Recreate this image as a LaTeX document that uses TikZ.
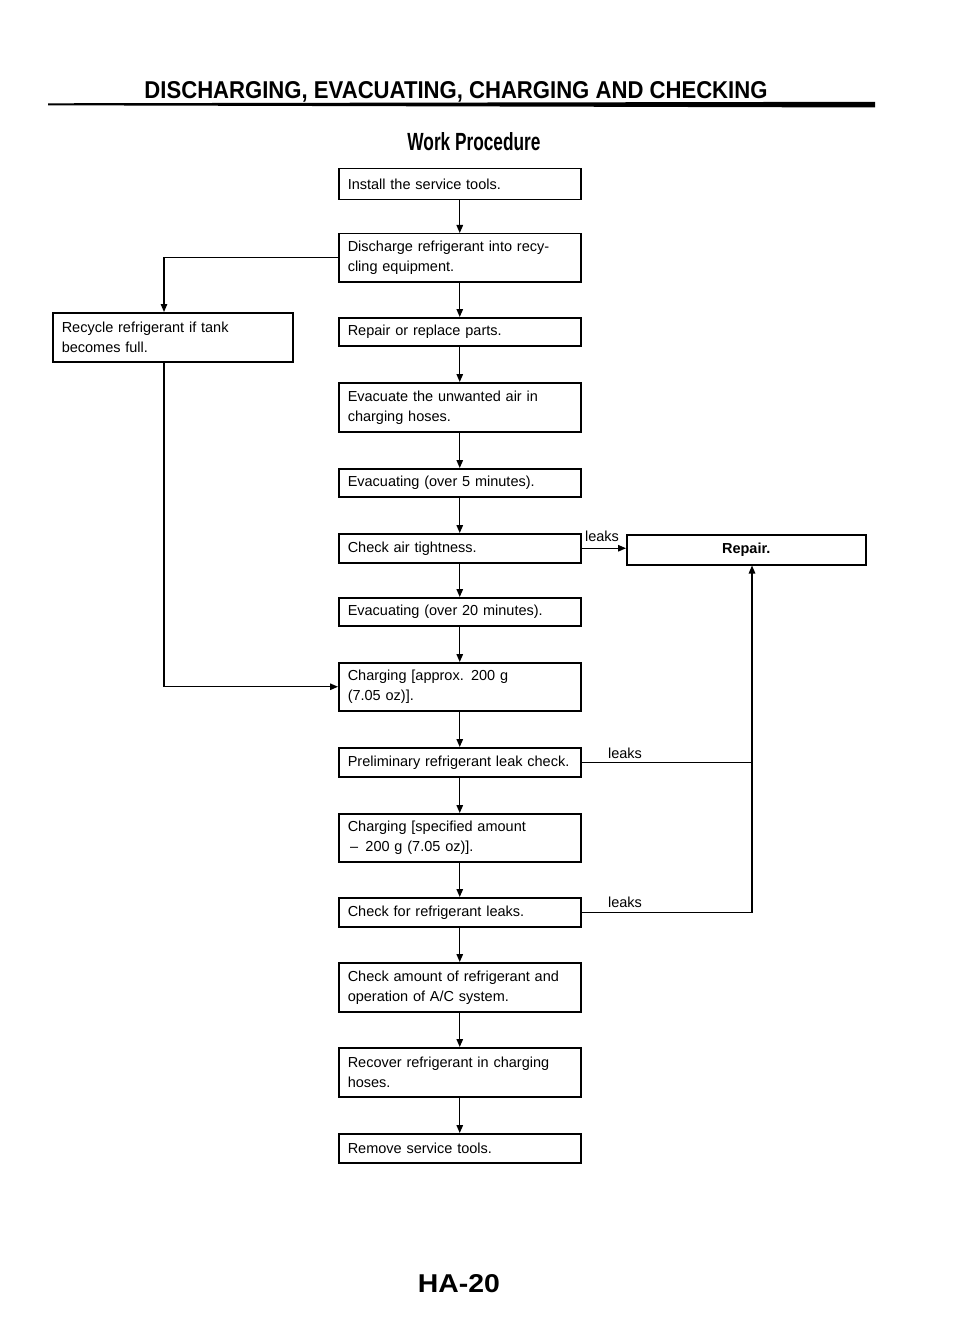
\documentclass[tikz,border=0pt]{standalone}
\usepackage{fontspec}
\setmainfont{Liberation Sans}
\usetikzlibrary{arrows.meta}
\begin{document}
\begin{tikzpicture}[x=1pt,y=-1pt,
  box/.style={draw, line width=1.5pt, anchor=north west, inner xsep=9pt, inner ysep=0pt,
    align=left, font=\fontsize{14.5}{20}\selectfont},
  mbox/.style={box, text width=224pt},
  conn/.style={line width=1.3pt},
  arr/.style={conn, -{Triangle[length=8pt,width=6.5pt]}},
  lbl/.style={font=\fontsize{14.5}{17}\selectfont, inner sep=0pt}]
\useasboundingbox (0,0) rectangle (960,1340);
\fill[white] (0,0) rectangle (960,1340);
% header
\fill (48,103.3) -- (875,101.8) -- (875,107.5) -- (48,105.3) -- cycle;
\node[inner sep=0pt, anchor=base] (title) at (456,99) {\resizebox{623pt}{17pt}{\bfseries DISCHARGING, EVACUATING, CHARGING AND CHECKING}};
\node[inner sep=0pt, anchor=base] (wp) at (474,151) {\resizebox{133pt}{18pt}{\bfseries Work Procedure}};
% main boxes
\node[mbox, minimum height=31pt] (b1) at (338,168) {Install the service tools.};
\node[mbox, minimum height=48pt] (b2) at (338,233) {Discharge refrigerant into recy-\\cling equipment.};
\node[mbox, minimum height=28pt] (b3) at (338,317) {Repair or replace parts.};
\node[mbox, minimum height=49pt] (b4) at (338,382) {Evacuate the unwanted air in\\charging hoses.};
\node[mbox, minimum height=28pt] (b5) at (338,468) {Evacuating (over 5 minutes).};
\node[mbox, minimum height=29pt] (b6) at (338,533) {Check air tightness.};
\node[mbox, minimum height=28pt] (b7) at (338,597) {Evacuating (over 20 minutes).};
\node[mbox, minimum height=48pt] (b8) at (338,662) {Charging [approx. 200 g\\(7.05 oz)].};
\node[mbox, minimum height=29pt] (b9) at (338,747) {Preliminary refrigerant leak check.};
\node[mbox, minimum height=48pt] (b10) at (338,813) {Charging [specified amount\\\,--\, 200 g (7.05 oz)].};
\node[mbox, minimum height=29pt] (b11) at (338,897) {Check for refrigerant leaks.};
\node[mbox, minimum height=49pt] (b12) at (338,962) {Check amount of refrigerant and\\operation of A/C system.};
\node[mbox, minimum height=49pt] (b13) at (338,1047) {Recover refrigerant in charging\\hoses.};
\node[mbox, minimum height=29pt] (b14) at (338,1133) {Remove service tools.};
% side boxes
\node[box, text width=222pt, minimum height=49pt] (rec) at (52,312) {Recycle refrigerant if tank\\becomes full.};
\node[box, text width=221pt, minimum height=30pt, align=center, font=\fontsize{14.5}{20}\selectfont\bfseries] (rep) at (626,534) {Repair.};
% main chain
\foreach \a/\b in {b1/b2,b2/b3,b3/b4,b4/b5,b5/b6,b6/b7,b7/b8,b8/b9,b9/b10,b10/b11,b11/b12,b12/b13,b13/b14}
  \draw[arr] (\a.south) -- (\b.north);
% recycle loop
\coordinate (lx) at (164,0);
\draw[arr] (b2.west) -| (lx |- rec.north);
\draw[arr] (lx |- rec.south) |- (b8.west);
% leaks to repair
\draw[arr] (b6.east) -- (b6.east -| rep.west);
\node[lbl, anchor=south] (l1) at (602,542) {leaks};
\coordinate (rx) at (752,0);
\draw[conn] (b9.east) -- (b9.east -| rx);
\draw[arr] (b11.east) -| (rx |- rep.south);
\node[lbl, anchor=south] (l2) at (625,759) {leaks};
\node[lbl, anchor=south] (l3) at (625,908) {leaks};
% footer
\node[inner sep=0pt, anchor=base] (pg) at (459,1292) {\resizebox{82pt}{18pt}{\bfseries HA-20}};
\end{tikzpicture}
\end{document}
